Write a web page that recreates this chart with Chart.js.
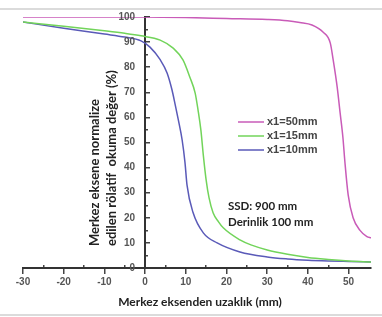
<!DOCTYPE html>
<html>
<head>
<meta charset="utf-8">
<script src="https://cdn.jsdelivr.net/npm/chart.js@4/dist/chart.umd.min.js"></script>
<style>
html,body{margin:0;padding:0;background:#fff;}
#wrap{width:382px;height:317px;position:relative;}
</style>
</head>
<body>
<div id="wrap"><canvas id="c" width="382" height="317"></canvas></div>
<script>
// ---- data ----
const seriesLabels = ['x1=50mm', 'x1=15mm', 'x1=10mm'];
const x50 = [-30, -20, -10, 0, 10, 20, 30, 35, 38, 41, 43.7, 45.5, 46.2, 47.2, 47.9, 48.6, 49.1, 49.9, 51.1, 52.8, 54.5, 55.5];
const y50 = [100, 100, 100, 100, 99.8, 99.4, 99, 98.5, 97.8, 96.8, 94, 89.6, 83, 72, 62, 52, 42, 29, 20, 15, 12.5, 12];
const x15 = [-30, -20, -10, -5, -1, 3.7, 6.9, 9.3, 11, 12.3, 13, 13.7, 14.3, 15, 15.7, 16.7, 18, 19.2, 23.3, 26, 30, 35, 40, 45, 50, 55.5];
const y15 = [98, 96.3, 94.5, 93.5, 92.5, 90.8, 87.6, 82.9, 76, 69.7, 63, 55, 45, 35, 28, 22, 18.5, 16, 11.2, 9.2, 7.2, 5.5, 4.2, 3.4, 2.8, 2.4];
const x10 = [-30, -20, -10, -5, -1, 1.2, 3.7, 5.4, 6.6, 7.4, 8.1, 9.1, 9.8, 10.3, 11.8, 14.3, 17.7, 23.3, 30, 35, 40, 45, 50, 55.5];
const y10 = [98, 95.5, 93.2, 92, 90.5, 88, 83, 77.7, 71, 65, 59.5, 51, 42, 33, 22, 14, 10, 6.4, 4.4, 3.6, 3.1, 2.8, 2.6, 2.4];
const xTitle = 'Merkez eksenden uzaklık (mm)';
const yTitle = ['Merkez eksene normalize', 'edilen rölatif  okuma değer (%)'];
const noteLines = ['SSD: 900 mm', 'Derinlik 100 mm'];

const colors = ['#c95bb8', '#72d45a', '#5a5ab8'];
const toPts = (xs, ys) => xs.map((x, i) => ({x: x, y: ys[i]}));
const tickFont = {family: 'Liberation Sans', size: 10, weight: 'bold'};

const decor = {
  id: 'decor',
  afterDraw(chart) {
    const ctx = chart.ctx;
    const W = chart.width;
    ctx.save();
    // frame lines
    ctx.strokeStyle = '#cfcfcf';
    ctx.lineWidth = 1.5;
    ctx.beginPath(); ctx.moveTo(0, 9); ctx.lineTo(W, 9); ctx.stroke();
    ctx.beginPath(); ctx.moveTo(0, 315); ctx.lineTo(W, 315); ctx.stroke();
    // y tick labels (left of the crossing axis)
    const ys = chart.scales.y;
    const axisX = chart.scales.x.getPixelForValue(0);
    ctx.fillStyle = '#555';
    ctx.font = 'bold 10px "Liberation Sans"';
    ctx.textAlign = 'right';
    ctx.textBaseline = 'middle';
    ys.ticks.forEach(t => {
      if (t.value % 10 === 0) ctx.fillText(String(t.value), axisX - 10, ys.getPixelForValue(t.value));
    });
    // x title
    ctx.fillStyle = '#222';
    ctx.font = 'bold 12px Lato';
    ctx.textAlign = 'center';
    ctx.fillText(xTitle, 200, 302);
    // y title
    ctx.save();
    ctx.translate(95, 246);
    ctx.rotate(-Math.PI / 2);
    ctx.textAlign = 'left';
    ctx.font = 'bold 13px Lato';
    ctx.fillText(yTitle[0], 0, 0);
    ctx.fillText(yTitle[1], 0, 16.5);
    ctx.restore();
    // annotation
    ctx.font = 'bold 11.5px Lato';
    ctx.textAlign = 'left';
    ctx.fillText(noteLines[0], 228, 206);
    ctx.fillText(noteLines[1], 228, 222);
    // legend
    ctx.font = 'bold 11px "Liberation Sans"';
    chart.data.datasets.forEach((ds, i) => {
      const yy = 122 + i * 14;
      ctx.strokeStyle = ds.borderColor;
      ctx.lineWidth = 1.5;
      ctx.beginPath(); ctx.moveTo(238, yy); ctx.lineTo(264, yy); ctx.stroke();
      ctx.fillStyle = '#444';
      ctx.fillText(ds.label, 267, yy);
    });
    ctx.restore();
  }
};

const majorColor = (step) => (c) => (c.tick && c.tick.value % step === 0 ? '#444' : 'rgba(0,0,0,0)');
const minorColor = (step) => (c) => (c.tick && c.tick.value % 5 === 0 && c.tick.value % step !== 0 ? '#444' : 'rgba(0,0,0,0)');

new Chart(document.getElementById('c'), {
  type: 'scatter',
  data: {
    datasets: [
      {label: seriesLabels[0], data: toPts(x50, y50), borderColor: colors[0]},
      {label: seriesLabels[1], data: toPts(x15, y15), borderColor: colors[1]},
      {label: seriesLabels[2], data: toPts(x10, y10), borderColor: colors[2]}
    ].map(d => Object.assign(d, {showLine: true, pointRadius: 0, borderWidth: 1.5, cubicInterpolationMode: 'monotone', fill: false, xAxisID: 'x', yAxisID: 'y'}))
  },
  options: {
    responsive: false,
    animation: false,
    layout: {padding: {left: 23, right: 11, top: 17, bottom: 49}},
    plugins: {legend: {display: false}, tooltip: {enabled: false}},
    scales: {
      x: {
        type: 'linear', min: -30, max: 55.5,
        position: {y: 0},
        border: {color: '#333', width: 2},
        grid: {drawOnChartArea: false, drawTicks: true, tickLength: 5, color: majorColor(10), lineWidth: 1.5},
        ticks: {
          stepSize: 5, color: '#555', padding: 3, font: tickFont, autoSkip: false, maxRotation: 0,
          callback: v => (v % 10 === 0 ? String(v) : '')
        }
      },
      x2: {
        type: 'linear', min: -30, max: 55.5, axis: 'x',
        position: {y: 0},
        border: {display: false},
        grid: {drawOnChartArea: false, drawTicks: true, tickLength: -3, color: minorColor(10), lineWidth: 1.5},
        ticks: {stepSize: 5, display: false}
      },
      y: {
        type: 'linear', min: 0, max: 100,
        position: {x: 0},
        border: {color: '#333', width: 2},
        grid: {drawOnChartArea: false, drawTicks: true, tickLength: -6, color: majorColor(10), lineWidth: 1.5},
        ticks: {stepSize: 10, display: false}
      },
      y2: {
        type: 'linear', min: 0, max: 100, axis: 'y',
        position: {x: 0},
        border: {display: false},
        grid: {drawOnChartArea: false, drawTicks: true, tickLength: -3, color: minorColor(10), lineWidth: 1.5},
        ticks: {stepSize: 5, display: false}
      }
    }
  },
  plugins: [decor]
});
</script>
</body>
</html>
